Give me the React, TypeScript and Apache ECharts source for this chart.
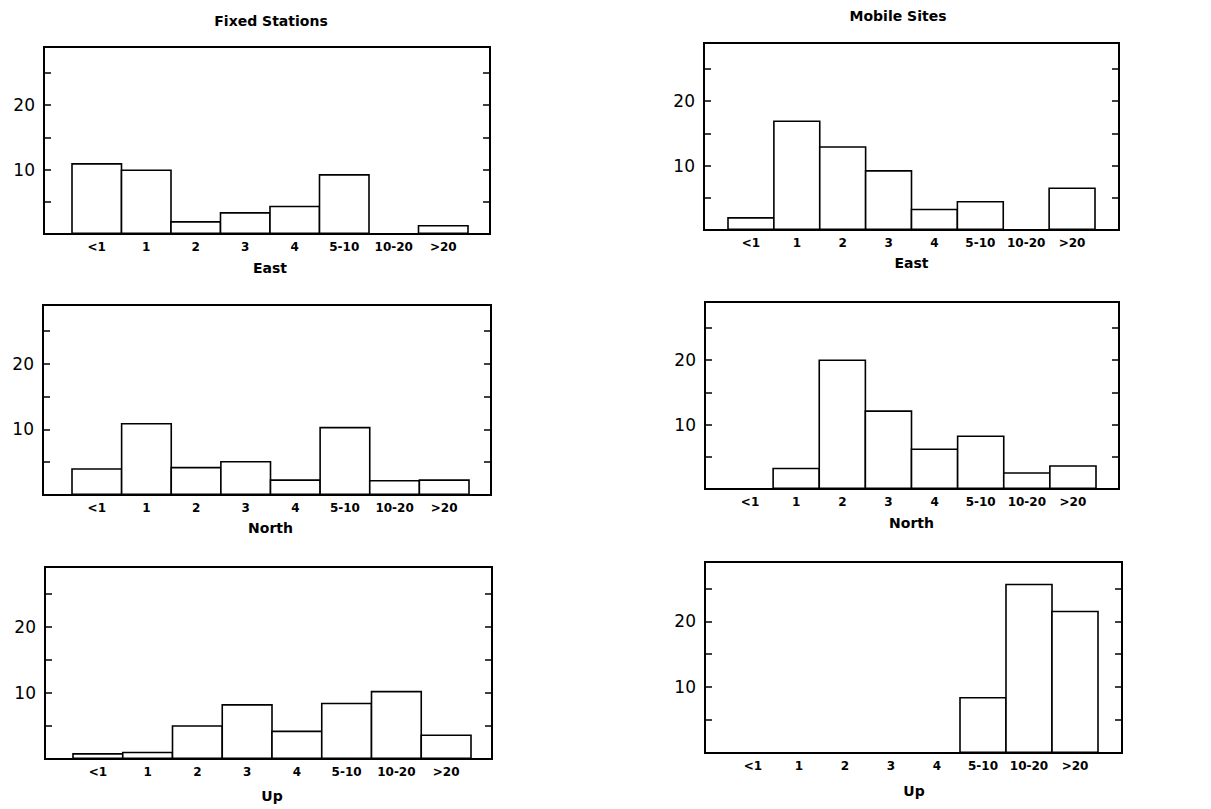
import React, { useEffect, useRef } from 'react';
import * as echarts from 'echarts';

// ---- data ----
const categories = ['<1', '1', '2', '3', '4', '5-10', '10-20', '>20'];
const fixedEast = [11, 10, 2, 3.4, 4.4, 9.3, 0, 1.4];
const fixedNorth = [4.1, 11, 4.3, 5.2, 2.4, 10.4, 2.3, 2.4];
const fixedUp = [0.9, 1.1, 5.1, 8.3, 4.3, 8.5, 10.3, 3.7];
const mobileEast = [2, 17, 13, 9.3, 3.3, 4.5, 0, 6.6];
const mobileNorth = [0, 3.3, 20.1, 12.2, 6.3, 8.3, 2.6, 3.7];
const mobileUp = [0, 0, 0, 0, 0, 8.5, 25.7, 21.6];
const yLabelValues = [10, 20];
const columnTitles = ['Fixed Stations', 'Mobile Sites'];

// ---- layout (pixels) ----
const panels = [
  { data: fixedEast, name: 'East', frame: [44, 47, 490, 234], bars: [72, 468], gap: 27 },
  { data: fixedNorth, name: 'North', frame: [43, 305, 491, 495], bars: [72, 469], gap: 26 },
  { data: fixedUp, name: 'Up', frame: [45, 567, 492, 759], bars: [73, 471], gap: 30 },
  { data: mobileEast, name: 'East', frame: [704, 43, 1119, 230], bars: [728, 1095], gap: 26 },
  { data: mobileNorth, name: 'North', frame: [705, 302, 1119, 489], bars: [727, 1096], gap: 27 },
  { data: mobileUp, name: 'Up', frame: [705, 562, 1122, 753], bars: [730, 1098], gap: 31 },
];
const titlePos = [
  { x: 266, y: 9 },
  { x: 893, y: 4 },
];

const FONT = 'DejaVu Sans';
const Y_MAX = 29;
const BAR_BORDER = 1.6;

function buildOption() {
  const grid: any[] = [];
  const xAxis: any[] = [];
  const yAxis: any[] = [];
  const series: any[] = [];

  panels.forEach((p, i) => {
    const [l, t, r, b] = p.frame;
    grid.push({
      left: l, top: t, width: r - l, height: b - t,
      show: true, borderColor: '#000', borderWidth: 2, backgroundColor: 'transparent',
    });
    grid.push({
      left: p.bars[0], top: t, width: p.bars[1] - p.bars[0], height: b - t,
      show: false,
    });
    xAxis.push({ type: 'value', gridIndex: 2 * i, show: false, min: 0, max: 1 });
    xAxis.push({
      type: 'category', gridIndex: 2 * i + 1, data: categories,
      axisLine: { show: false }, axisTick: { show: false },
      axisLabel: { color: '#000', fontFamily: FONT, fontSize: 12, fontWeight: 'bold', margin: 7, interval: 0 },
      name: p.name, nameLocation: 'middle', nameGap: p.gap,
      nameTextStyle: { color: '#000', fontFamily: FONT, fontSize: 14, fontWeight: 'bold', verticalAlign: 'top' },
      splitLine: { show: false },
    });
    const yCommon = {
      type: 'value', gridIndex: 2 * i, min: 0, max: Y_MAX, interval: 5,
      axisLine: { show: false },
      axisTick: { show: true, inside: true, length: 7, lineStyle: { color: '#000', width: 1.5 } },
      splitLine: { show: false },
    };
    yAxis.push({
      ...yCommon, position: 'left',
      axisLabel: {
        color: '#000', fontFamily: FONT, fontSize: 17, margin: 9,
        formatter: (v: number) => (yLabelValues.includes(v) ? String(v) : ''),
      },
    });
    yAxis.push({ ...yCommon, position: 'right', axisLabel: { show: false } });
    yAxis.push({ type: 'value', gridIndex: 2 * i + 1, min: 0, max: Y_MAX, show: false, splitLine: { show: false } });

    const band = (p.bars[1] - p.bars[0]) / categories.length;
    series.push({
      type: 'bar', xAxisIndex: 2 * i + 1, yAxisIndex: 3 * i + 2,
      data: p.data, barWidth: band + BAR_BORDER,
      itemStyle: { color: '#fff', borderColor: '#000', borderWidth: BAR_BORDER },
      silent: true,
    });
  });

  const title = columnTitles.map((text, k) => ({
    text, left: titlePos[k].x, top: titlePos[k].y, textAlign: 'center',
    textStyle: { color: '#000', fontFamily: FONT, fontSize: 14, fontWeight: 'bold' },
  }));

  return { animation: false, backgroundColor: '#fff', title, grid, xAxis, yAxis, series };
}

export default function App() {
  const ref = useRef<HTMLDivElement>(null);
  useEffect(() => {
    if (!ref.current) return;
    const chart = echarts.init(ref.current, undefined, { renderer: 'svg' });
    chart.setOption(buildOption() as any);
    return () => chart.dispose();
  }, []);
  return (
    <div
      ref={ref}
      style={{ position: 'absolute', left: 0, top: 0, width: 1211, height: 809, background: '#fff' }}
    />
  );
}
